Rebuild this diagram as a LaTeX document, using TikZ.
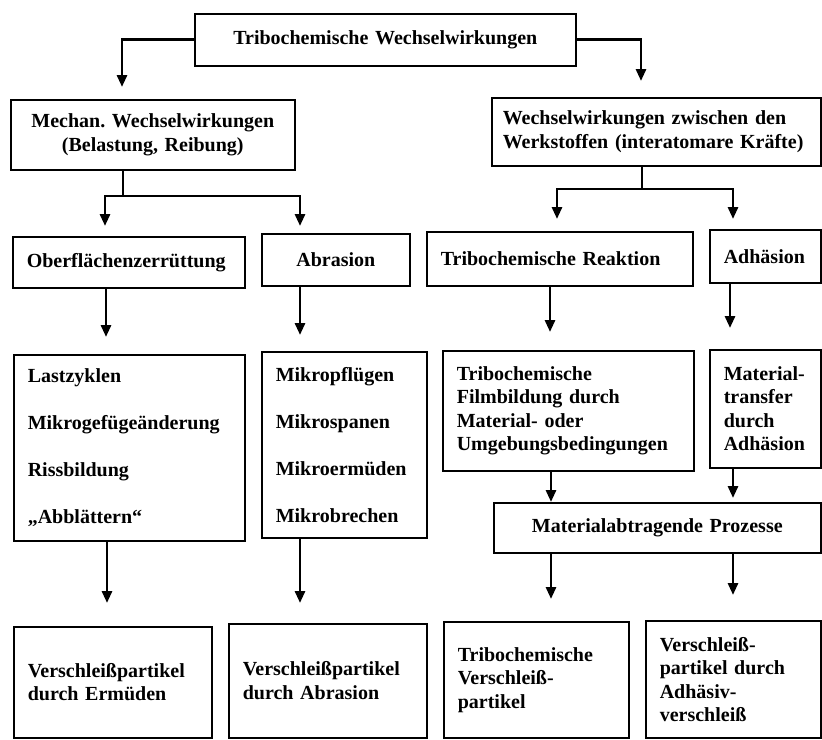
\documentclass[tikz,border=0pt]{standalone}
\usepackage{fontspec}
\setmainfont{Liberation Serif}
\usetikzlibrary{arrows.meta}
\frenchspacing

\begin{document}
\begin{tikzpicture}[x=1pt, y=-1pt, >={Triangle[length=12pt,width=10pt]}]
            \useasboundingbox (0,0) rectangle (822,739);
            \begin{scope}[every node/.style={draw,line width=1.6pt,anchor=north west,inner xsep=14pt,inner ysep=2pt,align=left,font=\bfseries\fontsize{20}{23.5}\selectfont}]
                \node[text width=353pt,minimum height=52pt,align=center] (tww) at (194,13) {Tribochemische Wechselwirkungen};
                \node[text width=256pt,minimum height=70pt,align=center] (mech) at (10,99) {Mechan. Wechselwirkungen\\(Belastung, Reibung)};
                \node[text width=307pt,inner xsep=11pt,minimum height=68pt] (werk) at (491,97) {Wechselwirkungen zwischen den\\Werkstoffen (interatomare Kräfte)};

                \node[text width=204pt,minimum height=51pt] (ober) at (12,236) {Oberflächenzerrüttung};
                \node[text width=120pt,minimum height=52pt,align=center] (abras) at (261,233) {Abrasion};
                \node[text width=238pt,minimum height=54pt] (reakt) at (426,231) {Tribochemische Reaktion};
                \node[text width=83pt,minimum height=53pt] (adh) at (709,229) {Adhäsion};

                \node[text width=203pt,minimum height=186pt] (last) at (13,354) {Lastzyklen\\[23.5pt]Mikrogefügeänderung\\[23.5pt]Rissbildung\\[23.5pt]„Abblättern“};
                \node[text width=137pt,minimum height=186pt] (mikro) at (261,351) {Mikropflügen\\[23.5pt]Mikrospanen\\[23.5pt]Mikroermüden\\[23.5pt]Mikrobrechen};
                \node[text width=223pt,minimum height=120pt] (film) at (442,350) {Tribochemische\\Filmbildung durch\\Material- oder\\Umgebungsbedingungen};
                \node[text width=83pt,minimum height=118pt] (trans) at (709,349) {Material-\\transfer\\durch\\Adhäsion};
                \node[text width=299pt,minimum height=50pt,align=center] (mat) at (493,502) {Materialabtragende Prozesse};

                \node[text width=170pt,minimum height=111pt] (v1) at (13,626) {Verschleißpartikel\\durch Ermüden};
                \node[text width=170pt,minimum height=114pt] (v2) at (228,623) {Verschleißpartikel\\durch Abrasion};
                \node[text width=157pt,minimum height=116pt] (v3) at (443,621) {Tribochemische\\Verschleiß-\\partikel};
                \node[text width=147pt,minimum height=117pt] (v4) at (645,620) {Verschleiß-\\partikel durch\\Adhäsiv-\\verschleiß};
            \end{scope}

            \begin{scope}[line width=2.8pt]
                \coordinate (mj) at (123,196);
                \coordinate (wj) at (642,189);

                \draw [->,shorten >=12pt] (tww.west) -| (mech.north -| 122,0);
                \draw [->,shorten >=16pt] (tww.east) -| (werk.north -| 641,0);

                \draw (mech.south -| mj) -- (mj);
                \draw [->,shorten >=10pt] (mj) -| (ober.north -| 105,0);
                \draw [->,shorten >=7pt] (mj) -| (abras.north -| 300,0);
                \draw (werk.south -| wj) -- (wj);
                \draw [->,shorten >=12pt] (wj) -| (reakt.north -| 557,0);
                \draw [->,shorten >=10pt] (wj) -| (adh.north -| 733,0);

                \draw [->,shorten >=17pt] (ober.south -| 106,0) -- (last.north -| 106,0);
                \draw [->,shorten >=16pt] (abras.south -| 300,0) -- (mikro.north -| 300,0);
                \draw [->,shorten >=18pt] (reakt.south -| 550,0) -- (film.north -| 550,0);
                \draw [->,shorten >=21pt] (adh.south -| 730,0) -- (trans.north -| 730,0);

                \draw [->] (film.south -| 551,0) -- (mat.north -| 551,0);
                \draw [->,shorten >=4pt] (trans.south -| 733,0) -- (mat.north -| 733,0);

                \draw [->,shorten >=23pt] (last.south -| 107,0) -- (v1.north -| 107,0);
                \draw [->,shorten >=20pt] (mikro.south -| 300,0) -- (v2.north -| 300,0);
                \draw [->,shorten >=22pt] (mat.south -| 551,0) -- (v3.north -| 551,0);
                \draw [->,shorten >=25pt] (mat.south -| 733,0) -- (v4.north -| 733,0);
            \end{scope}
\end{tikzpicture}
\end{document}
